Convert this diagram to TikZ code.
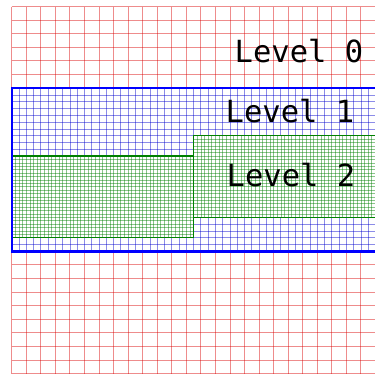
\documentclass[tikz,border=0pt]{standalone}
\usepackage{fontspec}
\setmonofont{DejaVu Sans Mono}

\begin{document}
\begin{tikzpicture}[x=1pt,y=-1pt,
    lvlzero/.style={red!85!black, opacity=0.45, line width=0.9pt},
    lvlone/.style={blue!80!black, opacity=0.45, line width=0.8pt},
    lvltwo/.style={green!50!black, opacity=0.45, line width=0.7pt},
    oneedge/.style={blue, line width=2.4pt},
    twoedge/.style={green!50!black, line width=1.5pt},
    lbl/.style={font=\ttfamily\fontsize{30.5}{36}\selectfont, inner sep=0pt, anchor=base west}
]
\useasboundingbox (0,0) rectangle (375,373);
\clip (0,0) rectangle (375,373);
% level 0
\foreach \i in {0,...,25}{\draw[lvlzero] ({11.7+14.55*\i},6.5) -- ({11.7+14.55*\i},380);}
\foreach \j in {0,...,27}{\draw[lvlzero] (11.7,{6.5+13.6*\j}) -- (380,{6.5+13.6*\j});}

% level 1
\fill[white] (11.7,88.1) rectangle (380,251.3);
\foreach \i in {0,...,50}{\draw[lvlone] ({11.7+7.275*\i},88.1) -- ({11.7+7.275*\i},251.3);}
\foreach \j in {0,...,24}{\draw[lvlone] (11.7,{88.1+6.8*\j}) -- (380,{88.1+6.8*\j});}

% level 2
\fill[white] (11.7,156.1) rectangle (193.575,237.7);
\fill[white] (193.575,135.7) rectangle (380,217.3);
\foreach \i in {0,...,50}{\draw[lvltwo] ({11.7+3.6375*\i},156.1) -- ({11.7+3.6375*\i},237.7);}
\foreach \j in {0,...,24}{\draw[lvltwo] (11.7,{156.1+3.4*\j}) -- (193.575,{156.1+3.4*\j});}
\foreach \i in {0,...,51}{\draw[lvltwo] ({193.575+3.6375*\i},135.7) -- ({193.575+3.6375*\i},217.3);}
\foreach \j in {0,...,24}{\draw[lvltwo] (193.575,{135.7+3.4*\j}) -- (380,{135.7+3.4*\j});}

% patch edges
\draw[twoedge] (11.7,156.1) rectangle (193.575,237.7);
\draw[twoedge] (193.575,135.7) rectangle (380,217.3);
\draw[oneedge] (11.7,88.1) rectangle (380,251.3);

\node[lbl] (levelzero) at (234.5,62) {Level 0};
\node[lbl] (levelone) at (225.5,122) {Level 1};
\node[lbl] (leveltwo) at (226.5,186.5) {Level 2};
\end{tikzpicture}
\end{document}
